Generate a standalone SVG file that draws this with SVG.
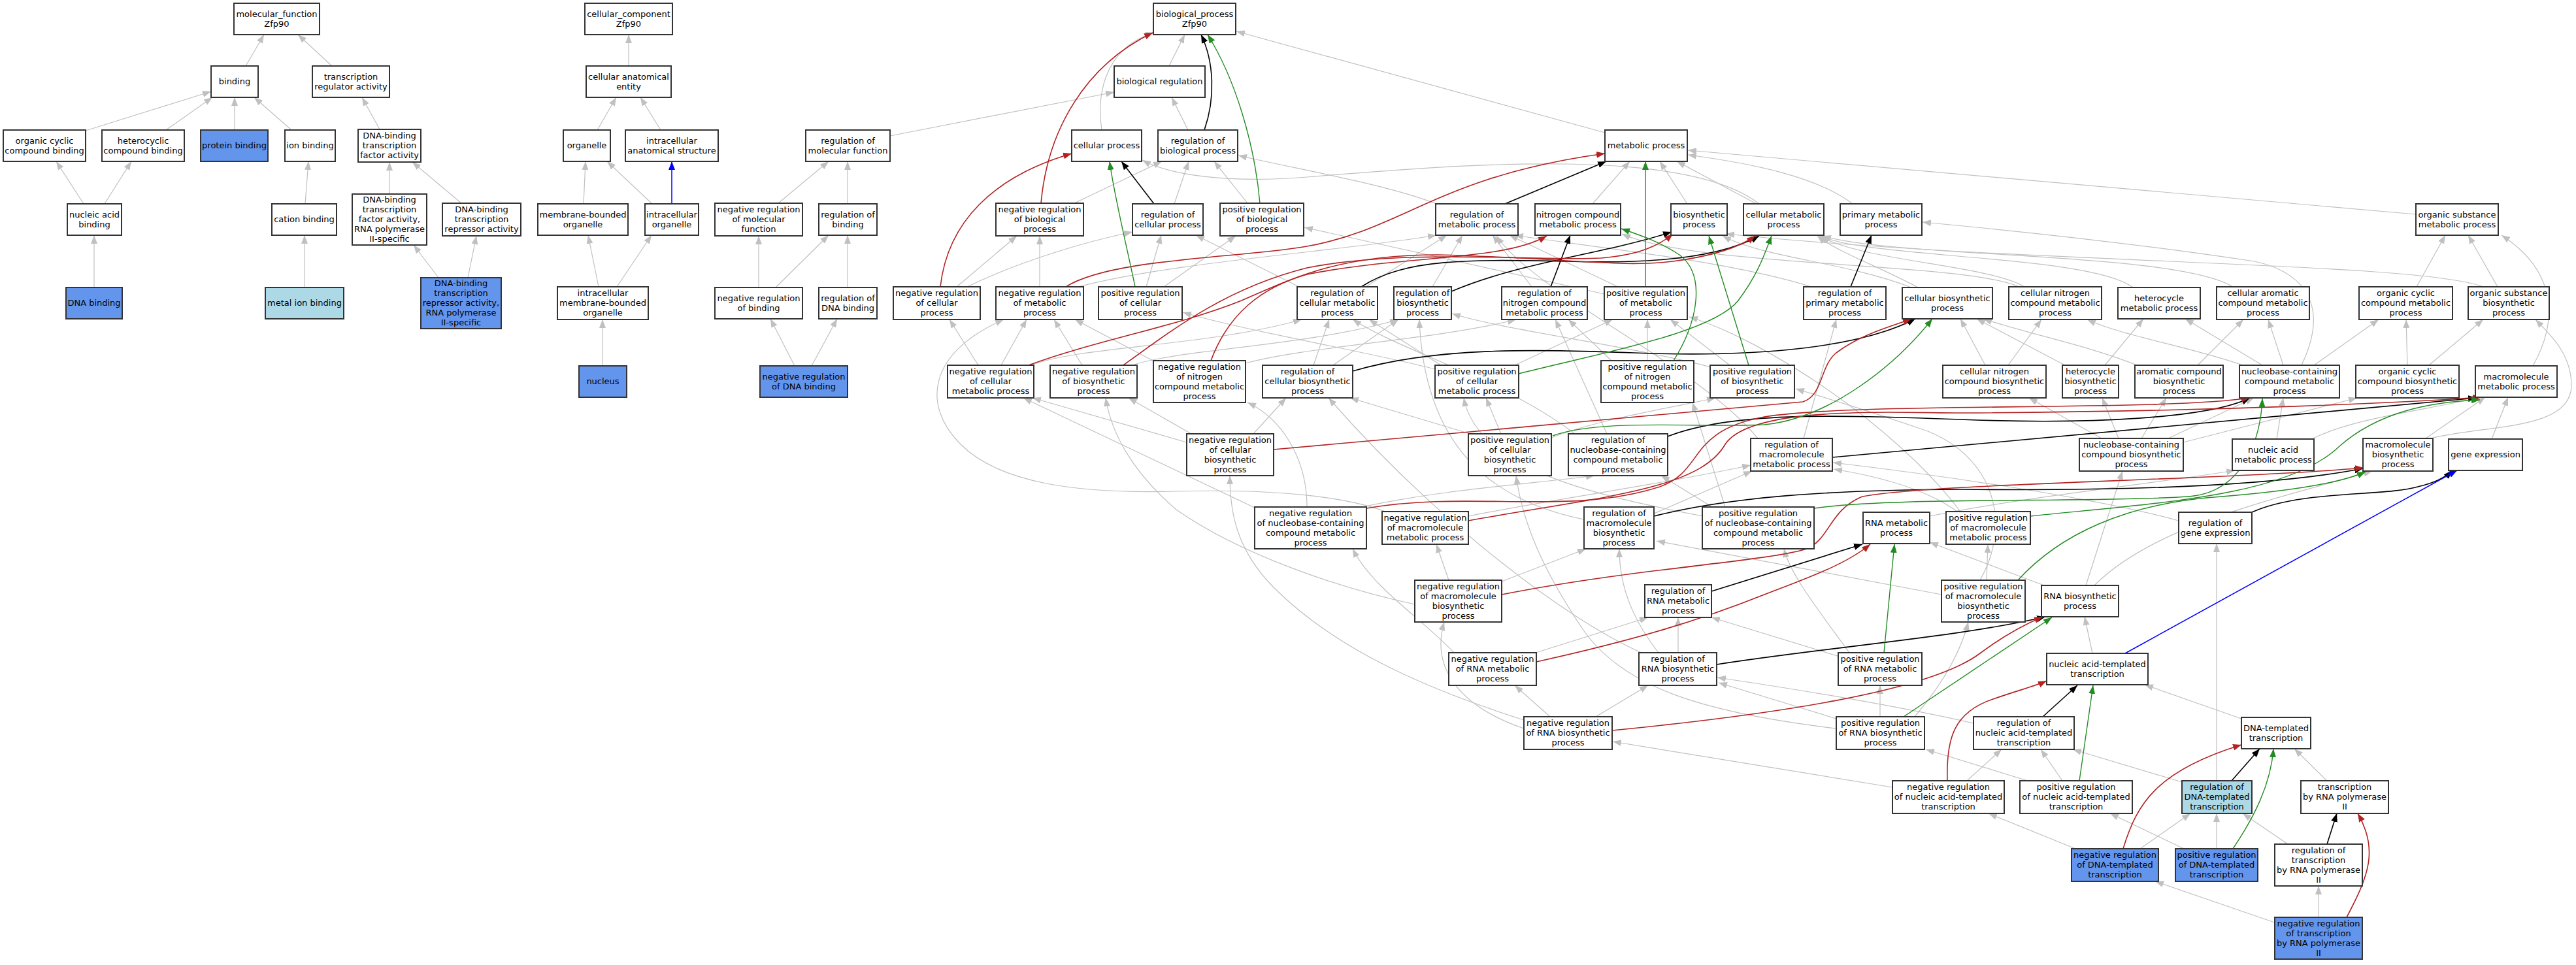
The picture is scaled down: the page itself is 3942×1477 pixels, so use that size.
<svg xmlns="http://www.w3.org/2000/svg" width="3942" height="1477" viewBox="0 0 3942 1477">
<style>
.node rect{fill:#fff;stroke:#333;stroke-width:2}
.node.bl rect{fill:#6495ED}
.node.lb rect{fill:#ADD8E6}
.node text{font-family:"DejaVu Sans","Liberation Sans",sans-serif;font-size:13px;fill:#000;text-anchor:middle}
#edges path{fill:none}
.e{stroke:#c0c0c0;stroke-width:1.2;marker-end:url(#ae)}
.k{stroke:#000;stroke-width:1.6;marker-end:url(#ak)}
.r{stroke:#b22222;stroke-width:1.6;marker-end:url(#ar)}
.g{stroke:#228b22;stroke-width:1.4;marker-end:url(#ag)}
.b{stroke:#0000ff;stroke-width:1.5;marker-end:url(#ab)}
</style>
<defs>
<marker id="ae" viewBox="0 0 13 10" refX="13" refY="5" markerWidth="13" markerHeight="10" markerUnits="userSpaceOnUse" orient="auto"><path d="M0,0L13,5L0,10z" fill="#c0c0c0"/></marker>
<marker id="ak" viewBox="0 0 13 10" refX="13" refY="5" markerWidth="13" markerHeight="10" markerUnits="userSpaceOnUse" orient="auto"><path d="M0,0L13,5L0,10z" fill="#000"/></marker>
<marker id="ar" viewBox="0 0 13 10" refX="13" refY="5" markerWidth="13" markerHeight="10" markerUnits="userSpaceOnUse" orient="auto"><path d="M0,0L13,5L0,10z" fill="#b22222"/></marker>
<marker id="ag" viewBox="0 0 13 10" refX="13" refY="5" markerWidth="13" markerHeight="10" markerUnits="userSpaceOnUse" orient="auto"><path d="M0,0L13,5L0,10z" fill="#228b22"/></marker>
<marker id="ab" viewBox="0 0 13 10" refX="13" refY="5" markerWidth="13" markerHeight="10" markerUnits="userSpaceOnUse" orient="auto"><path d="M0,0L13,5L0,10z" fill="#0000ff"/></marker>
</defs>
<rect x="0" y="0" width="3942" height="1477" fill="#fff"/>
<g id="edges">
<path class="e" d="M376 101L404 53"/>
<path class="e" d="M508 101L456 53"/>
<path class="e" d="M131 200L323 140"/>
<path class="e" d="M254 199L325 149"/>
<path class="e" d="M359 199L359 149"/>
<path class="e" d="M446 199L389 149"/>
<path class="e" d="M581 198L554 149"/>
<path class="e" d="M128 312L86 247"/>
<path class="e" d="M160 312L201 247"/>
<path class="e" d="M467 312L472 247"/>
<path class="e" d="M596 297L596 248"/>
<path class="e" d="M706 311L631 248"/>
<path class="e" d="M144 440L144 360"/>
<path class="e" d="M466 440L466 360"/>
<path class="e" d="M671 425L633 375"/>
<path class="e" d="M716 425L729 361"/>
<path class="e" d="M962 101L962 53"/>
<path class="e" d="M914 199L943 149"/>
<path class="e" d="M1011 199L980 149"/>
<path class="e" d="M893 312L896 247"/>
<path class="e" d="M998 312L929 247"/>
<path class="e" d="M916 439L900 360"/>
<path class="e" d="M944 439L997 360"/>
<path class="e" d="M922 560L922 489"/>
<path class="e" d="M1789 101L1813 53"/>
<path class="e" d="M1686 199C1676 130 1700 70 1766 50"/>
<path class="e" d="M2456 203L1892 48"/>
<path class="e" d="M1362 208L1705 141"/>
<path class="e" d="M1818 199L1793 149"/>
<path class="e" d="M1191 311L1268 247"/>
<path class="e" d="M1297 312L1297 247"/>
<path class="e" d="M1644 311L1778 247"/>
<path class="e" d="M1797 312L1819 247"/>
<path class="e" d="M1909 311L1858 247"/>
<path class="e" d="M2198 312C2120 282 2000 262 1895 238"/>
<path class="e" d="M2692 312C2580 225 2250 250 2000 271C1880 281 1790 268 1748 245"/>
<path class="e" d="M1161 440L1161 361"/>
<path class="e" d="M1187 440L1268 360"/>
<path class="e" d="M1297 440L1297 360"/>
<path class="e" d="M1216 560L1179 488"/>
<path class="e" d="M1242 560L1281 488"/>
<path class="e" d="M1464 439L1556 361"/>
<path class="e" d="M1480 439C1560 400 1660 370 1733 355"/>
<path class="e" d="M1591 439L1591 361"/>
<path class="e" d="M1650 439C1800 400 2050 385 2198 360"/>
<path class="e" d="M1754 439L1777 360"/>
<path class="e" d="M1781 439L1891 361"/>
<path class="e" d="M1988 439L1830 360"/>
<path class="e" d="M2090 439L2214 360"/>
<path class="e" d="M2192 439L2238 360"/>
<path class="e" d="M2344 439L2284 360"/>
<path class="e" d="M2476 439L2310 360"/>
<path class="e" d="M2455 450L1996 348"/>
<path class="e" d="M2775 440C2650 400 2450 380 2318 360"/>
<path class="e" d="M2437 312L2494 247"/>
<path class="e" d="M2582 312L2540 247"/>
<path class="e" d="M2688 312L2566 247"/>
<path class="e" d="M2835 312C2780 270 2680 250 2583 237"/>
<path class="e" d="M3697 328L2583 230"/>
<path class="e" d="M2925 440C2820 400 2700 395 2636 361"/>
<path class="e" d="M2935 440C2880 410 2810 385 2781 361"/>
<path class="e" d="M3098 439C3040 405 2850 400 2784 361"/>
<path class="e" d="M3090 439C3000 400 2600 410 2482 358"/>
<path class="e" d="M3264 440C3200 390 2850 395 2787 361"/>
<path class="e" d="M3417 439C3330 385 2900 395 2789 361"/>
<path class="e" d="M3698 439L3742 360"/>
<path class="e" d="M3822 439L3777 360"/>
<path class="e" d="M3800 439C3700 400 3100 405 2641 358"/>
<path class="e" d="M1497 559L1453 489"/>
<path class="e" d="M1532 559L1571 489"/>
<path class="e" d="M1578 559C1650 530 1850 530 1992 489"/>
<path class="e" d="M1656 559L1613 489"/>
<path class="e" d="M1733 559C1800 535 2000 530 2140 489"/>
<path class="e" d="M1766 553L1645 489"/>
<path class="e" d="M1906 556C2000 530 2200 520 2320 489"/>
<path class="e" d="M2010 559L2034 489"/>
<path class="e" d="M2040 559L2140 489"/>
<path class="e" d="M2196 565C2100 540 1900 505 1810 478"/>
<path class="e" d="M2318 559L2468 489"/>
<path class="e" d="M2205 559L2095 489"/>
<path class="e" d="M2521 552L2521 489"/>
<path class="e" d="M2466 552L2400 489"/>
<path class="e" d="M2647 559L2556 489"/>
<path class="e" d="M2622 563C2500 530 2300 505 2222 480"/>
<path class="e" d="M3038 559L3000 488"/>
<path class="e" d="M3073 559L3124 489"/>
<path class="e" d="M3221 559L3280 488"/>
<path class="e" d="M3160 559L3025 488"/>
<path class="e" d="M3363 559L3433 489"/>
<path class="e" d="M3270 559C3200 530 3100 510 3035 488"/>
<path class="e" d="M3432 559C3350 530 3250 515 3194 489"/>
<path class="e" d="M3462 559L3344 488"/>
<path class="e" d="M3494 559L3471 489"/>
<path class="e" d="M3541 559L3640 489"/>
<path class="e" d="M3522 559C3560 480 3540 420 3450 400C3250 370 3050 350 2942 340"/>
<path class="e" d="M3684 559L3682 489"/>
<path class="e" d="M3717 559L3800 489"/>
<path class="e" d="M3876 560C3910 500 3920 420 3828 360"/>
<path class="e" d="M3720 671C3800 650 3935 660 3935 590C3935 540 3900 510 3880 489"/>
<path class="e" d="M3712 671L3803 608"/>
<path class="e" d="M3813 672L3838 608"/>
<path class="e" d="M3318 671L3449 609"/>
<path class="e" d="M3216 671L3105 609"/>
<path class="e" d="M3242 671L3217 609"/>
<path class="e" d="M3277 671L3315 609"/>
<path class="e" d="M3341 677L3607 609"/>
<path class="e" d="M3484 672L3494 609"/>
<path class="e" d="M3538 672C3600 640 3700 630 3797 608"/>
<path class="e" d="M1816 677L1580 609"/>
<path class="e" d="M1823 664L1727 609"/>
<path class="e" d="M1918 664L1968 609"/>
<path class="e" d="M2297 664L2274 609"/>
<path class="e" d="M2374 670C2450 640 2580 620 2625 609"/>
<path class="e" d="M2250 664L2066 609"/>
<path class="e" d="M2459 664L2380 489"/>
<path class="e" d="M2410 664C2300 580 2150 540 2070 489"/>
<path class="e" d="M2760 671L2810 489"/>
<path class="e" d="M2690 671C2600 560 2350 450 2290 361"/>
<path class="e" d="M2995 783C2950 750 2880 730 2806 718"/>
<path class="e" d="M3334 797C3200 760 2950 725 2805 708"/>
<path class="e" d="M2531 786L2681 721"/>
<path class="e" d="M2247 790C2400 760 2550 740 2679 712"/>
<path class="e" d="M2120 783C2060 760 1950 748 1800 752C1650 756 1530 740 1470 680C1410 620 1420 540 1536 489"/>
<path class="e" d="M1922 778L1566 609"/>
<path class="e" d="M2000 776C2000 700 1960 640 1909 616"/>
<path class="e" d="M2085 776C2200 750 2350 740 2440 728"/>
<path class="e" d="M2217 888L2198 833"/>
<path class="e" d="M2165 925C2050 900 1900 850 1800 780C1730 720 1700 660 1692 609"/>
<path class="e" d="M2298 890L2427 840"/>
<path class="e" d="M2424 795C2300 770 2180 700 2172 489"/>
<path class="e" d="M2606 790C2450 760 2260 720 2240 609"/>
<path class="e" d="M2640 776L2590 616"/>
<path class="e" d="M2620 776L2542 728"/>
<path class="e" d="M2953 790C3100 760 3300 740 3420 720"/>
<path class="e" d="M3000 783C2900 650 2700 520 2585 485"/>
<path class="e" d="M3192 896L3248 721"/>
<path class="e" d="M3128 896L2953 830"/>
<path class="e" d="M3205 896C3300 800 3500 760 3630 721"/>
<path class="e" d="M3040 888L3042 833"/>
<path class="e" d="M2971 910L2535 828"/>
<path class="e" d="M3030 888C3080 800 3050 700 2950 660C2850 625 2780 605 2748 595"/>
<path class="e" d="M2225 999C2180 950 2100 900 2070 840"/>
<path class="e" d="M2350 999L2522 945"/>
<path class="e" d="M2568 999L2568 945"/>
<path class="e" d="M2538 999C2500 950 2478 900 2478 840"/>
<path class="e" d="M2512 999C2400 950 2200 800 2033 609"/>
<path class="e" d="M2830 999C2780 930 2740 880 2730 840"/>
<path class="e" d="M2815 1005L2619 945"/>
<path class="e" d="M3202 1000L3190 944"/>
<path class="e" d="M2372 1097L2318 1049"/>
<path class="e" d="M2442 1097L2522 1049"/>
<path class="e" d="M2332 1115C2230 1080 2190 1020 2210 952"/>
<path class="e" d="M2332 1102C2200 1060 2050 1000 1950 900C1890 840 1882 780 1882 728"/>
<path class="e" d="M2877 1097L2877 1049"/>
<path class="e" d="M2810 1100L2630 1045"/>
<path class="e" d="M2930 1097C2970 1050 3000 1000 3012 952"/>
<path class="e" d="M2810 1115C2600 1090 2480 1050 2420 960C2360 870 2330 800 2320 728"/>
<path class="e" d="M3020 1107C2900 1080 2750 1055 2628 1037"/>
<path class="e" d="M3430 1100L3282 1048"/>
<path class="e" d="M2896 1205L2468 1135"/>
<path class="e" d="M3010 1195L3063 1147"/>
<path class="e" d="M3103 1195L2947 1147"/>
<path class="e" d="M3156 1195L3123 1147"/>
<path class="e" d="M3339 1197L3172 1147"/>
<path class="e" d="M3392 1195L3392 832"/>
<path class="e" d="M3561 1195L3511 1146"/>
<path class="e" d="M3176 1299L3043 1245"/>
<path class="e" d="M3275 1299L3352 1245"/>
<path class="e" d="M3342 1299L3229 1245"/>
<path class="e" d="M3392 1299L3392 1245"/>
<path class="e" d="M3501 1292L3432 1245"/>
<path class="e" d="M3548 1404L3548 1356"/>
<path class="e" d="M3481 1412L3298 1349"/>
<path class="k" d="M1843 199C1860 150 1858 95 1838 53"/>
<path class="k" d="M1766 312L1716 247"/>
<path class="k" d="M2083 439C2150 395 2250 397 2400 400C2550 405 2640 390 2692 361"/>
<path class="k" d="M2221 446C2330 400 2450 390 2558 355"/>
<path class="k" d="M2373 439L2403 360"/>
<path class="k" d="M2832 439L2864 360"/>
<path class="k" d="M2303 312L2458 247"/>
<path class="k" d="M2070 568C2200 530 2350 535 2500 540C2700 548 2850 530 2931 488"/>
<path class="k" d="M2552 668C2650 630 2800 635 3000 642C3200 650 3380 640 3443 609"/>
<path class="k" d="M2804 700L3790 609"/>
<path class="k" d="M2531 790C2650 760 2800 750 3000 749C3300 752 3500 740 3616 717"/>
<path class="k" d="M2619 905L2850 833"/>
<path class="k" d="M2627 1017C2800 990 3000 975 3130 944"/>
<path class="k" d="M3446 784C3520 750 3650 760 3700 745C3730 738 3745 728 3752 720"/>
<path class="k" d="M3126 1097L3179 1049"/>
<path class="k" d="M3415 1195L3458 1146"/>
<path class="k" d="M3561 1292L3576 1245"/>
<path class="r" d="M1593 311C1603 200 1660 100 1764 50"/>
<path class="r" d="M1439 439C1450 340 1520 270 1640 235"/>
<path class="r" d="M1631 439C1700 395 1900 395 2000 377C2150 350 2200 270 2456 235"/>
<path class="r" d="M1574 559C1680 520 1800 500 1900 460C1980 425 2050 390 2200 390C2400 395 2480 410 2560 400C2620 392 2660 380 2686 361"/>
<path class="r" d="M1719 559C1800 500 1880 440 2000 410C2150 380 2350 400 2450 395C2510 390 2540 375 2560 358"/>
<path class="r" d="M1853 552C1880 480 1930 440 2000 420C2150 390 2300 400 2367 361"/>
<path class="r" d="M1949 688L2759 615C2790 605 2785 560 2810 540C2850 510 2900 498 2925 488"/>
<path class="r" d="M2247 797C2450 760 2600 750 2640 680C2680 620 2900 632 3000 632C3400 630 3700 615 3797 608"/>
<path class="r" d="M2091 778C2250 750 2400 790 2540 745C2610 720 2580 660 2700 638C2850 615 3300 630 3443 609"/>
<path class="r" d="M2298 910C2500 870 2700 860 2765 840C2800 825 2800 780 2850 760C2950 740 3400 735 3617 716"/>
<path class="r" d="M2351 1013C2500 980 2600 950 2700 910C2780 880 2830 860 2862 833"/>
<path class="r" d="M2467 1118C2700 1095 2950 1060 3030 1000C3070 970 3100 955 3126 944"/>
<path class="r" d="M2980 1195C2978 1130 2990 1090 3050 1070C3090 1056 3115 1050 3132 1042"/>
<path class="r" d="M3249 1299C3270 1230 3300 1180 3430 1140"/>
<path class="r" d="M3591 1404C3625 1340 3640 1300 3608 1245"/>
<path class="g" d="M1928 311C1920 220 1890 120 1848 53"/>
<path class="g" d="M1737 439C1725 380 1705 300 1698 247"/>
<path class="g" d="M2518 439L2518 247"/>
<path class="g" d="M2324 572C2450 540 2620 510 2660 460C2690 420 2700 390 2711 361"/>
<path class="g" d="M2561 552C2600 490 2610 420 2570 390C2540 370 2510 360 2481 350"/>
<path class="g" d="M2676 559L2615 361"/>
<path class="g" d="M2376 667C2450 640 2600 655 2700 650C2800 640 2900 560 2957 488"/>
<path class="g" d="M2776 778C2900 760 3200 770 3350 760C3440 752 3460 660 3462 610"/>
<path class="g" d="M3107 790C3300 770 3500 760 3580 683C3640 630 3720 615 3795 612"/>
<path class="g" d="M3088 888C3150 820 3250 770 3400 760C3500 752 3580 740 3620 722"/>
<path class="g" d="M2883 999L2899 833"/>
<path class="g" d="M2913 1097L3140 945"/>
<path class="g" d="M3182 1195L3203 1049"/>
<path class="g" d="M3417 1299C3450 1250 3475 1200 3479 1146"/>
<path class="b" d="M1028 312L1028 247"/>
<path class="b" d="M3252 1000L3760 720"/>
</g>
<g id="n_mf" class="node"><rect x="358" y="5" width="131" height="48"/><text x="423.5" y="25.5"><tspan x="423.5">molecular_function</tspan><tspan x="423.5" dy="15">Zfp90</tspan></text></g>
<g id="n_cc" class="node"><rect x="895" y="5" width="134" height="48"/><text x="962" y="25.5"><tspan x="962">cellular_component</tspan><tspan x="962" dy="15">Zfp90</tspan></text></g>
<g id="n_bp" class="node"><rect x="1765" y="5" width="126" height="48"/><text x="1828" y="25.5"><tspan x="1828">biological_process</tspan><tspan x="1828" dy="15">Zfp90</tspan></text></g>
<g id="n_bind" class="node"><rect x="323" y="101" width="72" height="48"/><text x="359" y="129">binding</text></g>
<g id="n_tra" class="node"><rect x="478" y="101" width="118" height="48"/><text x="537" y="121.5"><tspan x="537">transcription</tspan><tspan x="537" dy="15">regulator activity</tspan></text></g>
<g id="n_cae" class="node"><rect x="897" y="101" width="130" height="48"/><text x="962" y="121.5"><tspan x="962">cellular anatomical</tspan><tspan x="962" dy="15">entity</tspan></text></g>
<g id="n_br" class="node"><rect x="1705" y="101" width="139" height="48"/><text x="1774.5" y="129">biological regulation</text></g>
<g id="n_occb" class="node"><rect x="5" y="199" width="126" height="48"/><text x="68" y="219.5"><tspan x="68">organic cyclic</tspan><tspan x="68" dy="15">compound binding</tspan></text></g>
<g id="n_hcb" class="node"><rect x="156" y="199" width="126" height="48"/><text x="219" y="219.5"><tspan x="219">heterocyclic</tspan><tspan x="219" dy="15">compound binding</tspan></text></g>
<g id="n_pb" class="node bl"><rect x="307" y="199" width="103" height="48"/><text x="358.5" y="227">protein binding</text></g>
<g id="n_ib" class="node"><rect x="436" y="199" width="77" height="48"/><text x="474.5" y="227">ion binding</text></g>
<g id="n_dtfa" class="node"><rect x="548" y="198" width="96" height="50"/><text x="596" y="212"><tspan x="596">DNA-binding</tspan><tspan x="596" dy="15">transcription</tspan><tspan x="596" dy="15">factor activity</tspan></text></g>
<g id="n_org" class="node"><rect x="862" y="199" width="72" height="48"/><text x="898" y="227">organelle</text></g>
<g id="n_ias" class="node"><rect x="957" y="199" width="142" height="48"/><text x="1028" y="219.5"><tspan x="1028">intracellular</tspan><tspan x="1028" dy="15">anatomical structure</tspan></text></g>
<g id="n_rmf" class="node"><rect x="1233" y="199" width="129" height="48"/><text x="1297.5" y="219.5"><tspan x="1297.5">regulation of</tspan><tspan x="1297.5" dy="15">molecular function</tspan></text></g>
<g id="n_cp" class="node"><rect x="1640" y="199" width="107" height="48"/><text x="1693.5" y="227">cellular process</text></g>
<g id="n_rbp" class="node"><rect x="1772" y="199" width="122" height="48"/><text x="1833" y="219.5"><tspan x="1833">regulation of</tspan><tspan x="1833" dy="15">biological process</tspan></text></g>
<g id="n_mp" class="node"><rect x="2456" y="199" width="126" height="48"/><text x="2519" y="227">metabolic process</text></g>
<g id="n_nab" class="node"><rect x="103" y="312" width="83" height="48"/><text x="144.5" y="332.5"><tspan x="144.5">nucleic acid</tspan><tspan x="144.5" dy="15">binding</tspan></text></g>
<g id="n_cb" class="node"><rect x="416" y="312" width="99" height="48"/><text x="465.5" y="340">cation binding</text></g>
<g id="n_dtfa2" class="node"><rect x="539" y="297" width="114" height="78"/><text x="596" y="310"><tspan x="596">DNA-binding</tspan><tspan x="596" dy="15">transcription</tspan><tspan x="596" dy="15">factor activity,</tspan><tspan x="596" dy="15">RNA polymerase</tspan><tspan x="596" dy="15">II-specific</tspan></text></g>
<g id="n_dtra" class="node"><rect x="677" y="311" width="120" height="50"/><text x="737" y="325"><tspan x="737">DNA-binding</tspan><tspan x="737" dy="15">transcription</tspan><tspan x="737" dy="15">repressor activity</tspan></text></g>
<g id="n_mbo" class="node"><rect x="823" y="312" width="138" height="48"/><text x="892" y="332.5"><tspan x="892">membrane-bounded</tspan><tspan x="892" dy="15">organelle</tspan></text></g>
<g id="n_io" class="node"><rect x="987" y="312" width="82" height="48"/><text x="1028" y="332.5"><tspan x="1028">intracellular</tspan><tspan x="1028" dy="15">organelle</tspan></text></g>
<g id="n_nrmf" class="node"><rect x="1094" y="311" width="134" height="50"/><text x="1161" y="325"><tspan x="1161">negative regulation</tspan><tspan x="1161" dy="15">of molecular</tspan><tspan x="1161" dy="15">function</tspan></text></g>
<g id="n_rb" class="node"><rect x="1253" y="312" width="89" height="48"/><text x="1297.5" y="332.5"><tspan x="1297.5">regulation of</tspan><tspan x="1297.5" dy="15">binding</tspan></text></g>
<g id="n_nrbp" class="node"><rect x="1524" y="311" width="134" height="50"/><text x="1591" y="325"><tspan x="1591">negative regulation</tspan><tspan x="1591" dy="15">of biological</tspan><tspan x="1591" dy="15">process</tspan></text></g>
<g id="n_rcp" class="node"><rect x="1733" y="312" width="108" height="48"/><text x="1787" y="332.5"><tspan x="1787">regulation of</tspan><tspan x="1787" dy="15">cellular process</tspan></text></g>
<g id="n_prbp" class="node"><rect x="1867" y="311" width="128" height="50"/><text x="1931" y="325"><tspan x="1931">positive regulation</tspan><tspan x="1931" dy="15">of biological</tspan><tspan x="1931" dy="15">process</tspan></text></g>
<g id="n_rmp" class="node"><rect x="2197" y="312" width="126" height="48"/><text x="2260" y="332.5"><tspan x="2260">regulation of</tspan><tspan x="2260" dy="15">metabolic process</tspan></text></g>
<g id="n_ncmp" class="node"><rect x="2349" y="312" width="131" height="48"/><text x="2414.5" y="332.5"><tspan x="2414.5">nitrogen compound</tspan><tspan x="2414.5" dy="15">metabolic process</tspan></text></g>
<g id="n_bsp" class="node"><rect x="2557" y="312" width="86" height="48"/><text x="2600" y="332.5"><tspan x="2600">biosynthetic</tspan><tspan x="2600" dy="15">process</tspan></text></g>
<g id="n_cmp" class="node"><rect x="2668" y="312" width="123" height="48"/><text x="2729.5" y="332.5"><tspan x="2729.5">cellular metabolic</tspan><tspan x="2729.5" dy="15">process</tspan></text></g>
<g id="n_pmp" class="node"><rect x="2816" y="312" width="125" height="48"/><text x="2878.5" y="332.5"><tspan x="2878.5">primary metabolic</tspan><tspan x="2878.5" dy="15">process</tspan></text></g>
<g id="n_osmp" class="node"><rect x="3697" y="312" width="126" height="48"/><text x="3760" y="332.5"><tspan x="3760">organic substance</tspan><tspan x="3760" dy="15">metabolic process</tspan></text></g>
<g id="n_db" class="node bl"><rect x="101" y="440" width="86" height="48"/><text x="144" y="468">DNA binding</text></g>
<g id="n_mib" class="node lb"><rect x="406" y="440" width="120" height="48"/><text x="466" y="468">metal ion binding</text></g>
<g id="n_dtra2" class="node bl"><rect x="644" y="425" width="123" height="78"/><text x="705.5" y="438"><tspan x="705.5">DNA-binding</tspan><tspan x="705.5" dy="15">transcription</tspan><tspan x="705.5" dy="15">repressor activity,</tspan><tspan x="705.5" dy="15">RNA polymerase</tspan><tspan x="705.5" dy="15">II-specific</tspan></text></g>
<g id="n_imbo" class="node"><rect x="853" y="439" width="139" height="50"/><text x="922.5" y="453"><tspan x="922.5">intracellular</tspan><tspan x="922.5" dy="15">membrane-bounded</tspan><tspan x="922.5" dy="15">organelle</tspan></text></g>
<g id="n_nrb" class="node"><rect x="1094" y="440" width="134" height="48"/><text x="1161" y="460.5"><tspan x="1161">negative regulation</tspan><tspan x="1161" dy="15">of binding</tspan></text></g>
<g id="n_rdb" class="node"><rect x="1253" y="440" width="89" height="48"/><text x="1297.5" y="460.5"><tspan x="1297.5">regulation of</tspan><tspan x="1297.5" dy="15">DNA binding</tspan></text></g>
<g id="n_nrcp" class="node"><rect x="1367" y="439" width="133" height="50"/><text x="1433.5" y="453"><tspan x="1433.5">negative regulation</tspan><tspan x="1433.5" dy="15">of cellular</tspan><tspan x="1433.5" dy="15">process</tspan></text></g>
<g id="n_nrmp" class="node"><rect x="1524" y="439" width="134" height="50"/><text x="1591" y="453"><tspan x="1591">negative regulation</tspan><tspan x="1591" dy="15">of metabolic</tspan><tspan x="1591" dy="15">process</tspan></text></g>
<g id="n_prcp" class="node"><rect x="1681" y="439" width="128" height="50"/><text x="1745" y="453"><tspan x="1745">positive regulation</tspan><tspan x="1745" dy="15">of cellular</tspan><tspan x="1745" dy="15">process</tspan></text></g>
<g id="n_rcmp" class="node"><rect x="1985" y="439" width="123" height="50"/><text x="2046.5" y="453"><tspan x="2046.5">regulation of</tspan><tspan x="2046.5" dy="15">cellular metabolic</tspan><tspan x="2046.5" dy="15">process</tspan></text></g>
<g id="n_rbsp" class="node"><rect x="2133" y="439" width="88" height="50"/><text x="2177" y="453"><tspan x="2177">regulation of</tspan><tspan x="2177" dy="15">biosynthetic</tspan><tspan x="2177" dy="15">process</tspan></text></g>
<g id="n_rncmp" class="node"><rect x="2298" y="439" width="131" height="50"/><text x="2363.5" y="453"><tspan x="2363.5">regulation of</tspan><tspan x="2363.5" dy="15">nitrogen compound</tspan><tspan x="2363.5" dy="15">metabolic process</tspan></text></g>
<g id="n_prmp" class="node"><rect x="2455" y="439" width="127" height="50"/><text x="2518.5" y="453"><tspan x="2518.5">positive regulation</tspan><tspan x="2518.5" dy="15">of metabolic</tspan><tspan x="2518.5" dy="15">process</tspan></text></g>
<g id="n_rpmp" class="node"><rect x="2760" y="439" width="126" height="50"/><text x="2823" y="453"><tspan x="2823">regulation of</tspan><tspan x="2823" dy="15">primary metabolic</tspan><tspan x="2823" dy="15">process</tspan></text></g>
<g id="n_cbp" class="node"><rect x="2911" y="440" width="138" height="48"/><text x="2980" y="460.5"><tspan x="2980">cellular biosynthetic</tspan><tspan x="2980" dy="15">process</tspan></text></g>
<g id="n_cncmp" class="node"><rect x="3074" y="439" width="142" height="50"/><text x="3145" y="453"><tspan x="3145">cellular nitrogen</tspan><tspan x="3145" dy="15">compound metabolic</tspan><tspan x="3145" dy="15">process</tspan></text></g>
<g id="n_hmp" class="node"><rect x="3241" y="440" width="126" height="48"/><text x="3304" y="460.5"><tspan x="3304">heterocycle</tspan><tspan x="3304" dy="15">metabolic process</tspan></text></g>
<g id="n_camp" class="node"><rect x="3392" y="439" width="142" height="50"/><text x="3463" y="453"><tspan x="3463">cellular aromatic</tspan><tspan x="3463" dy="15">compound metabolic</tspan><tspan x="3463" dy="15">process</tspan></text></g>
<g id="n_occmp" class="node"><rect x="3610" y="439" width="143" height="50"/><text x="3681.5" y="453"><tspan x="3681.5">organic cyclic</tspan><tspan x="3681.5" dy="15">compound metabolic</tspan><tspan x="3681.5" dy="15">process</tspan></text></g>
<g id="n_osbp" class="node"><rect x="3777" y="439" width="124" height="50"/><text x="3839" y="453"><tspan x="3839">organic substance</tspan><tspan x="3839" dy="15">biosynthetic</tspan><tspan x="3839" dy="15">process</tspan></text></g>
<g id="n_nuc" class="node bl"><rect x="886" y="560" width="73" height="48"/><text x="922.5" y="588">nucleus</text></g>
<g id="n_nrdb" class="node bl"><rect x="1163" y="560" width="134" height="48"/><text x="1230" y="580.5"><tspan x="1230">negative regulation</tspan><tspan x="1230" dy="15">of DNA binding</tspan></text></g>
<g id="n_nrcmp" class="node"><rect x="1450" y="559" width="132" height="50"/><text x="1516" y="573"><tspan x="1516">negative regulation</tspan><tspan x="1516" dy="15">of cellular</tspan><tspan x="1516" dy="15">metabolic process</tspan></text></g>
<g id="n_nrbsp" class="node"><rect x="1607" y="559" width="133" height="50"/><text x="1673.5" y="573"><tspan x="1673.5">negative regulation</tspan><tspan x="1673.5" dy="15">of biosynthetic</tspan><tspan x="1673.5" dy="15">process</tspan></text></g>
<g id="n_nrncmp" class="node"><rect x="1765" y="552" width="141" height="64"/><text x="1835.5" y="565.5"><tspan x="1835.5">negative regulation</tspan><tspan x="1835.5" dy="15">of nitrogen</tspan><tspan x="1835.5" dy="15">compound metabolic</tspan><tspan x="1835.5" dy="15">process</tspan></text></g>
<g id="n_rcbp" class="node"><rect x="1932" y="559" width="138" height="50"/><text x="2001" y="573"><tspan x="2001">regulation of</tspan><tspan x="2001" dy="15">cellular biosynthetic</tspan><tspan x="2001" dy="15">process</tspan></text></g>
<g id="n_prcmp" class="node"><rect x="2196" y="559" width="128" height="50"/><text x="2260" y="573"><tspan x="2260">positive regulation</tspan><tspan x="2260" dy="15">of cellular</tspan><tspan x="2260" dy="15">metabolic process</tspan></text></g>
<g id="n_prncmp" class="node"><rect x="2450" y="552" width="142" height="64"/><text x="2521" y="565.5"><tspan x="2521">positive regulation</tspan><tspan x="2521" dy="15">of nitrogen</tspan><tspan x="2521" dy="15">compound metabolic</tspan><tspan x="2521" dy="15">process</tspan></text></g>
<g id="n_prbsp" class="node"><rect x="2617" y="559" width="129" height="50"/><text x="2681.5" y="573"><tspan x="2681.5">positive regulation</tspan><tspan x="2681.5" dy="15">of biosynthetic</tspan><tspan x="2681.5" dy="15">process</tspan></text></g>
<g id="n_cncbp" class="node"><rect x="2973" y="559" width="158" height="50"/><text x="3052" y="573"><tspan x="3052">cellular nitrogen</tspan><tspan x="3052" dy="15">compound biosynthetic</tspan><tspan x="3052" dy="15">process</tspan></text></g>
<g id="n_hbp" class="node"><rect x="3156" y="559" width="86" height="50"/><text x="3199" y="573"><tspan x="3199">heterocycle</tspan><tspan x="3199" dy="15">biosynthetic</tspan><tspan x="3199" dy="15">process</tspan></text></g>
<g id="n_acbp" class="node"><rect x="3267" y="559" width="135" height="50"/><text x="3334.5" y="573"><tspan x="3334.5">aromatic compound</tspan><tspan x="3334.5" dy="15">biosynthetic</tspan><tspan x="3334.5" dy="15">process</tspan></text></g>
<g id="n_nccmp" class="node"><rect x="3427" y="559" width="153" height="50"/><text x="3503.5" y="573"><tspan x="3503.5">nucleobase-containing</tspan><tspan x="3503.5" dy="15">compound metabolic</tspan><tspan x="3503.5" dy="15">process</tspan></text></g>
<g id="n_occbp" class="node"><rect x="3605" y="559" width="158" height="50"/><text x="3684" y="573"><tspan x="3684">organic cyclic</tspan><tspan x="3684" dy="15">compound biosynthetic</tspan><tspan x="3684" dy="15">process</tspan></text></g>
<g id="n_mmp" class="node"><rect x="3788" y="560" width="125" height="48"/><text x="3850.5" y="580.5"><tspan x="3850.5">macromolecule</tspan><tspan x="3850.5" dy="15">metabolic process</tspan></text></g>
<g id="n_nrcbp" class="node"><rect x="1816" y="664" width="133" height="64"/><text x="1882.5" y="677.5"><tspan x="1882.5">negative regulation</tspan><tspan x="1882.5" dy="15">of cellular</tspan><tspan x="1882.5" dy="15">biosynthetic</tspan><tspan x="1882.5" dy="15">process</tspan></text></g>
<g id="n_prcbp" class="node"><rect x="2247" y="664" width="127" height="64"/><text x="2310.5" y="677.5"><tspan x="2310.5">positive regulation</tspan><tspan x="2310.5" dy="15">of cellular</tspan><tspan x="2310.5" dy="15">biosynthetic</tspan><tspan x="2310.5" dy="15">process</tspan></text></g>
<g id="n_rnccmp" class="node"><rect x="2400" y="664" width="152" height="64"/><text x="2476" y="677.5"><tspan x="2476">regulation of</tspan><tspan x="2476" dy="15">nucleobase-containing</tspan><tspan x="2476" dy="15">compound metabolic</tspan><tspan x="2476" dy="15">process</tspan></text></g>
<g id="n_rmmp" class="node"><rect x="2679" y="671" width="125" height="50"/><text x="2741.5" y="685"><tspan x="2741.5">regulation of</tspan><tspan x="2741.5" dy="15">macromolecule</tspan><tspan x="2741.5" dy="15">metabolic process</tspan></text></g>
<g id="n_nccbp" class="node"><rect x="3182" y="671" width="159" height="50"/><text x="3261.5" y="685"><tspan x="3261.5">nucleobase-containing</tspan><tspan x="3261.5" dy="15">compound biosynthetic</tspan><tspan x="3261.5" dy="15">process</tspan></text></g>
<g id="n_namp" class="node"><rect x="3416" y="672" width="125" height="48"/><text x="3478.5" y="692.5"><tspan x="3478.5">nucleic acid</tspan><tspan x="3478.5" dy="15">metabolic process</tspan></text></g>
<g id="n_mbp" class="node"><rect x="3616" y="671" width="107" height="50"/><text x="3669.5" y="685"><tspan x="3669.5">macromolecule</tspan><tspan x="3669.5" dy="15">biosynthetic</tspan><tspan x="3669.5" dy="15">process</tspan></text></g>
<g id="n_ge" class="node"><rect x="3747" y="672" width="113" height="48"/><text x="3803.5" y="700">gene expression</text></g>
<g id="n_nrnccmp" class="node"><rect x="1920" y="776" width="171" height="64"/><text x="2005.5" y="789.5"><tspan x="2005.5">negative regulation</tspan><tspan x="2005.5" dy="15">of nucleobase-containing</tspan><tspan x="2005.5" dy="15">compound metabolic</tspan><tspan x="2005.5" dy="15">process</tspan></text></g>
<g id="n_nrmmp" class="node"><rect x="2115" y="783" width="132" height="50"/><text x="2181" y="797"><tspan x="2181">negative regulation</tspan><tspan x="2181" dy="15">of macromolecule</tspan><tspan x="2181" dy="15">metabolic process</tspan></text></g>
<g id="n_rmbp" class="node"><rect x="2424" y="776" width="107" height="64"/><text x="2477.5" y="789.5"><tspan x="2477.5">regulation of</tspan><tspan x="2477.5" dy="15">macromolecule</tspan><tspan x="2477.5" dy="15">biosynthetic</tspan><tspan x="2477.5" dy="15">process</tspan></text></g>
<g id="n_prnccmp" class="node"><rect x="2605" y="776" width="171" height="64"/><text x="2690.5" y="789.5"><tspan x="2690.5">positive regulation</tspan><tspan x="2690.5" dy="15">of nucleobase-containing</tspan><tspan x="2690.5" dy="15">compound metabolic</tspan><tspan x="2690.5" dy="15">process</tspan></text></g>
<g id="n_rnamp" class="node"><rect x="2851" y="784" width="102" height="48"/><text x="2902" y="804.5"><tspan x="2902">RNA metabolic</tspan><tspan x="2902" dy="15">process</tspan></text></g>
<g id="n_prmmp" class="node"><rect x="2978" y="783" width="129" height="50"/><text x="3042.5" y="797"><tspan x="3042.5">positive regulation</tspan><tspan x="3042.5" dy="15">of macromolecule</tspan><tspan x="3042.5" dy="15">metabolic process</tspan></text></g>
<g id="n_rge" class="node"><rect x="3334" y="784" width="112" height="48"/><text x="3390" y="804.5"><tspan x="3390">regulation of</tspan><tspan x="3390" dy="15">gene expression</tspan></text></g>
<g id="n_nrmbp" class="node"><rect x="2165" y="888" width="133" height="64"/><text x="2231.5" y="901.5"><tspan x="2231.5">negative regulation</tspan><tspan x="2231.5" dy="15">of macromolecule</tspan><tspan x="2231.5" dy="15">biosynthetic</tspan><tspan x="2231.5" dy="15">process</tspan></text></g>
<g id="n_rrnamp" class="node"><rect x="2517" y="895" width="102" height="50"/><text x="2568" y="909"><tspan x="2568">regulation of</tspan><tspan x="2568" dy="15">RNA metabolic</tspan><tspan x="2568" dy="15">process</tspan></text></g>
<g id="n_prmbp" class="node"><rect x="2971" y="888" width="128" height="64"/><text x="3035" y="901.5"><tspan x="3035">positive regulation</tspan><tspan x="3035" dy="15">of macromolecule</tspan><tspan x="3035" dy="15">biosynthetic</tspan><tspan x="3035" dy="15">process</tspan></text></g>
<g id="n_rnabp" class="node"><rect x="3124" y="896" width="118" height="48"/><text x="3183" y="916.5"><tspan x="3183">RNA biosynthetic</tspan><tspan x="3183" dy="15">process</tspan></text></g>
<g id="n_nrrnamp" class="node"><rect x="2217" y="999" width="134" height="50"/><text x="2284" y="1013"><tspan x="2284">negative regulation</tspan><tspan x="2284" dy="15">of RNA metabolic</tspan><tspan x="2284" dy="15">process</tspan></text></g>
<g id="n_rrnabp" class="node"><rect x="2508" y="999" width="119" height="50"/><text x="2567.5" y="1013"><tspan x="2567.5">regulation of</tspan><tspan x="2567.5" dy="15">RNA biosynthetic</tspan><tspan x="2567.5" dy="15">process</tspan></text></g>
<g id="n_prrnamp" class="node"><rect x="2813" y="999" width="128" height="50"/><text x="2877" y="1013"><tspan x="2877">positive regulation</tspan><tspan x="2877" dy="15">of RNA metabolic</tspan><tspan x="2877" dy="15">process</tspan></text></g>
<g id="n_natt" class="node"><rect x="3132" y="1000" width="155" height="48"/><text x="3209.5" y="1020.5"><tspan x="3209.5">nucleic acid-templated</tspan><tspan x="3209.5" dy="15">transcription</tspan></text></g>
<g id="n_nrrnabp" class="node"><rect x="2332" y="1097" width="135" height="50"/><text x="2399.5" y="1111"><tspan x="2399.5">negative regulation</tspan><tspan x="2399.5" dy="15">of RNA biosynthetic</tspan><tspan x="2399.5" dy="15">process</tspan></text></g>
<g id="n_prrnabp" class="node"><rect x="2810" y="1097" width="135" height="50"/><text x="2877.5" y="1111"><tspan x="2877.5">positive regulation</tspan><tspan x="2877.5" dy="15">of RNA biosynthetic</tspan><tspan x="2877.5" dy="15">process</tspan></text></g>
<g id="n_rnatt" class="node"><rect x="3020" y="1097" width="154" height="50"/><text x="3097" y="1111"><tspan x="3097">regulation of</tspan><tspan x="3097" dy="15">nucleic acid-templated</tspan><tspan x="3097" dy="15">transcription</tspan></text></g>
<g id="n_dtt" class="node"><rect x="3430" y="1098" width="106" height="48"/><text x="3483" y="1118.5"><tspan x="3483">DNA-templated</tspan><tspan x="3483" dy="15">transcription</tspan></text></g>
<g id="n_nrnatt" class="node"><rect x="2896" y="1195" width="171" height="50"/><text x="2981.5" y="1209"><tspan x="2981.5">negative regulation</tspan><tspan x="2981.5" dy="15">of nucleic acid-templated</tspan><tspan x="2981.5" dy="15">transcription</tspan></text></g>
<g id="n_prnatt" class="node"><rect x="3091" y="1195" width="172" height="50"/><text x="3177" y="1209"><tspan x="3177">positive regulation</tspan><tspan x="3177" dy="15">of nucleic acid-templated</tspan><tspan x="3177" dy="15">transcription</tspan></text></g>
<g id="n_rdtt" class="node lb"><rect x="3339" y="1195" width="107" height="50"/><text x="3392.5" y="1209"><tspan x="3392.5">regulation of</tspan><tspan x="3392.5" dy="15">DNA-templated</tspan><tspan x="3392.5" dy="15">transcription</tspan></text></g>
<g id="n_trp2" class="node"><rect x="3521" y="1195" width="134" height="50"/><text x="3588" y="1209"><tspan x="3588">transcription</tspan><tspan x="3588" dy="15">by RNA polymerase</tspan><tspan x="3588" dy="15">II</tspan></text></g>
<g id="n_nrdtt" class="node bl"><rect x="3170" y="1299" width="133" height="50"/><text x="3236.5" y="1313"><tspan x="3236.5">negative regulation</tspan><tspan x="3236.5" dy="15">of DNA-templated</tspan><tspan x="3236.5" dy="15">transcription</tspan></text></g>
<g id="n_prdtt" class="node bl"><rect x="3329" y="1299" width="126" height="50"/><text x="3392" y="1313"><tspan x="3392">positive regulation</tspan><tspan x="3392" dy="15">of DNA-templated</tspan><tspan x="3392" dy="15">transcription</tspan></text></g>
<g id="n_rtrp2" class="node"><rect x="3481" y="1292" width="134" height="64"/><text x="3548" y="1305.5"><tspan x="3548">regulation of</tspan><tspan x="3548" dy="15">transcription</tspan><tspan x="3548" dy="15">by RNA polymerase</tspan><tspan x="3548" dy="15">II</tspan></text></g>
<g id="n_nrtrp2" class="node bl"><rect x="3481" y="1404" width="134" height="64"/><text x="3548" y="1417.5"><tspan x="3548">negative regulation</tspan><tspan x="3548" dy="15">of transcription</tspan><tspan x="3548" dy="15">by RNA polymerase</tspan><tspan x="3548" dy="15">II</tspan></text></g>
</svg>
